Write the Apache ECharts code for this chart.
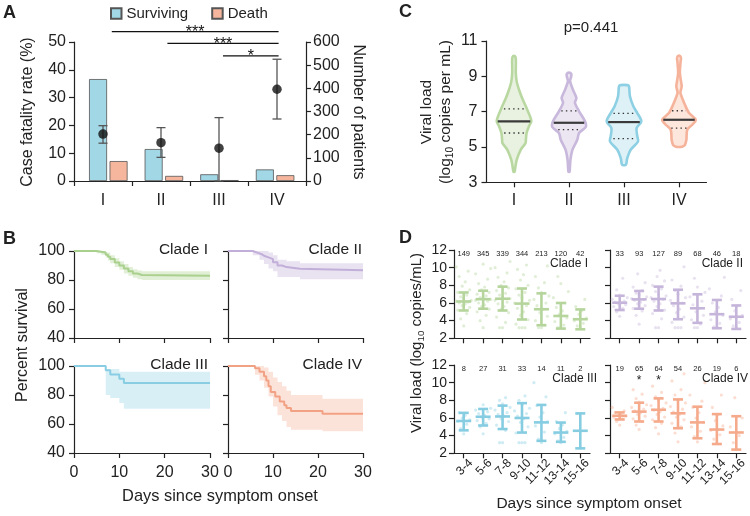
<!DOCTYPE html>
<html><head><meta charset="utf-8">
<script src="https://cdn.jsdelivr.net/npm/echarts@6/dist/echarts.min.js"></script>
<style>html,body{margin:0;padding:0;background:#fff}#chart{width:750px;height:516px}</style>
</head><body><div id="chart"></div>
<script>
// ---------------- Panel A data ----------------
const cladesA = ['I', 'II', 'III', 'IV'];
const survivingPatients = [440, 138, 29, 50];
const deathPatients = [86, 22, 4, 25];
const fatalityRate = [16.9, 13.8, 11.8, 33.0];
const fatalityLow = [13.6, 8.5, 0, 22.3];
const fatalityHigh = [19.9, 19.2, 22.8, 43.8];
const sigFrom = [0, 1, 2];
const sigTo = [3, 3, 3];
const sigLevel = [645, 594, 540];          // in patient-axis units
const sigText = ['***', '***', '*'];

// ---------------- Panel B data (Kaplan-Meier) ----------------
const kmCladeI = [[0,100],[5,99.5],[6,99],[7,97.5],[7.5,96],[8,94.5],[9,92],[10,90],[11,88],[12,86],[13,84.5],[14,83.5],[15,83],[30,83]];
const kmCladeIUpper = [[0,100],[5.5,100],[7,99],[8,97],[9,95],[10,93],[11,91],[12,89],[13,87.5],[14,86.5],[15,86],[30,86]];
const kmCladeILower = [[0,100],[5,98.5],[6,97.5],[7,95.5],[7.5,93.5],[8,91.5],[9,89],[10,87],[11,84.5],[12,83],[13,81.5],[14,80.5],[15,80],[30,80]];
const kmCladeII = [[0,100],[5.5,98.9],[6.5,97.8],[7.5,96.7],[8,95.6],[9,94.4],[10,92.2],[11,90],[12,88.9],[13,87.8],[16,86.7],[30,86.7]];
const kmCladeIIUpper = [[0,100],[9,99],[10,97],[11,94],[13,93],[16,91.5],[30,91.5]];
const kmCladeIILower = [[0,100],[5.5,97],[7,94],[8,91],[9,88],[10,86],[11,82],[16,80.5],[30,80.5]];
const kmCladeIII = [[0,100],[7,97.1],[8,94.1],[10,91.2],[11,88.2],[30,88.2]];
const kmCladeIIIUpper = [[0,100],[7,98],[10,96],[30,96]];
const kmCladeIIILower = [[0,100],[7,80],[8,78],[10,74.5],[11,70.5],[30,70.5]];
const kmCladeIV = [[0,100],[6,98.4],[7,96],[8,93],[8.5,90],[9,86],[9.5,82],[10.5,79],[11.5,75.5],[12.5,73],[13,71],[14,69],[21,67],[30,67]];
const kmCladeIVUpper = [[0,100],[8,99],[9,96],[10,92],[11,89],[12,86],[13,83],[14,80],[21,77.5],[30,77.5]];
const kmCladeIVLower = [[0,100],[6,94],[7,90],[8,85],[9,79],[10,72],[11,66],[12,62],[13,58],[14,56],[21,55],[30,55]];
const kmLabels = ['Clade I', 'Clade II', 'Clade III', 'Clade IV'];

// ---------------- Panel C data (violins) ----------------
const cladesC = ['I', 'II', 'III', 'IV'];
const violinI = [[10.15,0.04],[10.0,0.1],[9.2,0.1],[8.7,0.15],[8.24,0.28],[7.77,0.45],[7.2,0.7],[6.73,0.89],[6.45,0.96],[6.17,0.83],[5.79,0.7],[5.4,0.66],[5.22,0.64],[4.84,0.37],[4.27,0.15],[3.9,0.08],[3.6,0.03]];
const violinII = [[9.2,0.05],[9.12,0.13],[8.98,0.12],[8.72,0.06],[8.24,0.22],[7.77,0.41],[7.5,0.33],[7.02,0.56],[6.45,0.89],[6.13,0.93],[5.79,0.56],[5.41,0.46],[4.84,0.19],[4.27,0.08],[3.8,0.05],[3.6,0.03]];
const violinIII = [[8.5,0.2],[8.42,0.28],[7.87,0.33],[7.3,0.52],[6.92,0.74],[6.45,0.96],[6.07,0.7],[5.6,0.74],[5.31,0.78],[4.84,0.37],[4.37,0.18],[4.06,0.13],[3.98,0.08]];
const violinIV = [[10.15,0.06],[10.02,0.11],[9.85,0.09],[9.18,0.05],[8.6,0.13],[8.43,0.15],[8.2,0.1],[8.05,0.08],[7.39,0.33],[6.92,0.56],[6.54,0.93],[6.26,0.74],[5.98,0.46],[5.41,0.41],[5.12,0.33],[5.03,0.22],[5.0,0.1]];
const violinMedian = [6.45, 6.37, 6.41, 6.54];
const violinQ1 = [5.79, 5.98, 5.47, 6.07];
const violinQ3 = [7.16, 7.04, 6.9, 7.05];
const pValueText = 'p=0.441';

// ---------------- Panel D data ----------------
const dayBins = ['3-4', '5-6', '7-8', '9-10', '11-12', '13-14', '15-16'];
const dMeanI = [6.17, 6.43, 6.48, 5.93, 5.29, 4.53, 4.16];
const dHighI = [7.19, 7.39, 7.85, 7.64, 7.09, 6.0, 5.27];
const dLowI = [5.15, 5.35, 5.15, 4.13, 3.48, 3.1, 3.02];
const dCountI = [149, 345, 339, 344, 213, 120, 42];
const dMeanII = [6.03, 6.41, 6.45, 5.96, 5.4, 4.73, 4.44];
const dHighII = [6.82, 7.36, 7.85, 7.5, 6.98, 6.34, 5.72];
const dLowII = [5.2, 5.35, 5.15, 4.16, 3.75, 3.14, 3.06];
const dCountII = [33, 93, 127, 89, 68, 46, 18];
const dMeanIII = [5.66, 6.14, 6.17, 6.0, 5.5, 4.35, 4.55];
const dHighIII = [6.58, 7.02, 7.4, 7.68, 7.48, 5.48, 6.52];
const dLowIII = [4.6, 5.15, 4.75, 4.35, 3.41, 3.3, 2.56];
const dCountIII = [8, 27, 31, 33, 14, 11, 2];
const dMeanIV = [6.25, 6.72, 6.93, 6.53, 5.5, 4.69, 4.36];
const dHighIV = [6.63, 7.73, 8.22, 8.1, 7.28, 6.44, 6.2];
const dLowIV = [5.83, 5.6, 5.6, 4.84, 3.7, 3.05, 2.42];
const dCountIV = [19, 65, 64, 54, 26, 19, 6];
const dStarsIV = ['', '*', '*', '', '', '', ''];
const dStarsNone = ['', '', '', '', '', '', ''];
const dPointsI = [
  [3.4,4.2,4.8,5.2,5.5,5.7,5.9,6.0,6.1,6.2,6.3,6.5,6.7,6.9,7.2,7.5,7.9,8.4,9.0,9.6,10.1],
  [3.2,4.0,4.6,5.0,5.3,5.6,5.8,6.0,6.2,6.3,6.4,6.5,6.6,6.8,7.0,7.2,7.5,7.8,8.2,8.7,9.3,9.9,10.4],
  [3.2,3.2,3.8,4.4,4.9,5.3,5.6,5.9,6.1,6.3,6.5,6.7,6.9,7.1,7.4,7.7,8.0,8.4,8.9,9.4,10.0,10.7],
  [3.2,3.2,3.2,3.6,4.1,4.6,5.0,5.4,5.7,6.0,6.3,6.6,6.9,7.2,7.6,8.0,8.6,9.2,9.8,10.3],
  [3.2,3.2,3.5,4.0,4.5,4.9,5.3,5.7,6.0,6.4,6.8,7.2,7.7,8.3,9.0,10.2],
  [3.2,3.2,3.5,3.9,4.3,4.7,5.1,5.5,6.0,6.6,7.3,8.2,9.0],
  [3.2,3.4,3.7,4.0,4.3,4.7,5.1,5.6,6.4]
];
const dPointsII = [
  [4.5,5.0,5.4,5.6,5.8,5.9,6.0,6.1,6.2,6.4,6.6,6.9,7.5,8.8],
  [3.6,4.6,5.1,5.4,5.7,5.9,6.1,6.3,6.4,6.5,6.7,6.9,7.1,7.4,7.8,8.3,9.3],
  [3.2,3.2,4.2,4.8,5.2,5.6,5.9,6.2,6.4,6.6,6.8,7.0,7.3,7.6,8.0,8.5,9.0,9.7],
  [3.2,3.2,3.2,3.8,4.4,4.9,5.3,5.7,6.0,6.3,6.6,7.0,7.4,7.9,8.6,10.1],
  [3.2,3.2,3.6,4.1,4.6,5.0,5.4,5.8,6.2,6.7,7.2,7.8,8.8],
  [3.2,3.3,3.7,4.1,4.6,5.0,5.5,6.0,6.8,7.6,8.9],
  [3.2,3.4,3.8,4.2,4.6,5.1,5.7,6.4,7.4]
];
const dPointsIII = [
  [4.2,4.8,5.3,5.6,5.8,6.0,6.3,6.6],
  [4.2,5.0,5.4,5.7,5.9,6.1,6.3,6.5,6.7,6.9,7.1,7.5],
  [3.2,3.2,4.6,5.2,5.6,5.9,6.2,6.4,6.6,6.9,7.2,7.6,8.0,8.3],
  [3.2,3.2,3.2,4.3,5.0,5.5,5.9,6.2,6.5,6.8,7.1,7.5,8.0,8.5],
  [3.2,3.6,4.4,5.1,5.6,6.1,6.6,7.4,8.4,10.0],
  [3.2,3.4,3.8,4.2,4.5,4.8,5.2,5.6,6.6],
  [2.6,6.5]
];
const dPointsIV = [
  [5.2,5.6,5.9,6.1,6.2,6.3,6.4,6.6,6.8,7.2],
  [4.7,5.2,5.6,5.9,6.2,6.4,6.6,6.8,7.0,7.2,7.5,7.8,8.2,8.7,9.2],
  [4.2,4.9,5.4,5.8,6.1,6.4,6.7,6.9,7.1,7.4,7.7,8.0,8.4,8.9,9.6],
  [3.3,4.3,5.0,5.4,5.8,6.1,6.4,6.7,7.0,7.3,7.7,8.1,8.6,9.2,10.2,11.0],
  [3.3,3.9,4.5,5.0,5.5,6.0,6.6,7.2,7.9,8.6,10.0],
  [3.2,3.6,4.1,4.6,5.1,5.7,6.4,7.2,8.6],
  [2.4,3.2,4.0,5.0,6.0,8.3]
];
const dLabels = ['Clade I', 'Clade II', 'Clade III', 'Clade IV'];

// ---------------- styling ----------------
const FONT = "'Liberation Sans', Arial, Helvetica, sans-serif";
const INK = '#222';

const grids = [
  {left: 74, top: 42, width: 232, height: 139},      // 0 A (axes, dots)
  {left: 80.5, top: 42, width: 222.4, height: 139},  // 1 A (bars)
  {left: 74, top: 251, width: 136, height: 87},       // 2 B I
  {left: 228, top: 251, width: 135, height: 87},      // 3 B II
  {left: 74, top: 366, width: 136, height: 87},       // 4 B III
  {left: 228, top: 366, width: 135, height: 87},      // 5 B IV
  {left: 486.5, top: 41, width: 220, height: 141.3},  // 6 C
  {left: 454, top: 250, width: 136, height: 88.3},    // 7 D I
  {left: 610, top: 250, width: 136, height: 88.3},    // 8 D II
  {left: 454, top: 365, width: 136, height: 88.3},    // 9 D III
  {left: 610, top: 365, width: 136, height: 88.3}     // 10 D IV
];

const LINE = {show: true, onZero: false, lineStyle: {color: INK, width: 1.2}};
const TICK = {show: true, length: 5, lineStyle: {color: INK, width: 1.2}};
function lab(show, size, margin, extra) {
  return Object.assign({show: show, fontSize: size, color: INK, margin: margin, fontFamily: FONT}, extra || {});
}
const NOSPLIT = {show: false};

const xAxis = [], yAxis = [], series = [];

// ---- A axes
xAxis.push({type: 'category', gridIndex: 0, data: cladesA, axisLine: LINE, axisTick: TICK, axisLabel: lab(true, 16, 12), splitLine: NOSPLIT});
yAxis.push({type: 'value', gridIndex: 0, position: 'left', min: 0, max: 50, interval: 10, axisLine: LINE, axisTick: TICK, axisLabel: lab(true, 16, 8), splitLine: NOSPLIT});
yAxis.push({type: 'value', gridIndex: 0, position: 'right', min: 0, max: 600, interval: 100, axisLine: LINE, axisTick: TICK, axisLabel: lab(true, 16, 7), splitLine: NOSPLIT});
xAxis.push({type: 'category', gridIndex: 1, data: cladesA, show: false});
yAxis.push({type: 'value', gridIndex: 1, min: 0, max: 600, show: false});

// ---- B axes
for (let k = 0; k < 4; k++) {
  xAxis.push({type: 'value', gridIndex: 2 + k, min: 0, max: 30, interval: 10, axisLine: LINE, axisTick: TICK, axisLabel: lab(k >= 2, 16, 12), splitLine: NOSPLIT});
  yAxis.push({type: 'value', gridIndex: 2 + k, min: 40, max: 100, interval: 20, axisLine: LINE, axisTick: TICK, axisLabel: lab(k % 2 === 0, 16, 9), splitLine: NOSPLIT});
}
// ---- C axes
xAxis.push({type: 'category', gridIndex: 6, data: cladesC, axisLine: LINE, axisTick: Object.assign({alignWithLabel: true}, TICK), axisLabel: lab(true, 16, 10), splitLine: NOSPLIT});
yAxis.push({type: 'value', gridIndex: 6, min: 3, max: 11, interval: 2, axisLine: LINE, axisTick: TICK, axisLabel: lab(true, 16, 9), splitLine: NOSPLIT});
// ---- D axes
for (let k = 0; k < 4; k++) {
  xAxis.push({type: 'category', gridIndex: 7 + k, data: dayBins, axisLine: LINE,
    axisTick: Object.assign({alignWithLabel: true, interval: 0}, TICK),
    axisLabel: lab(k >= 2, 12, 15, {rotate: 45, interval: 0, padding: [0, -10, 0, 0]}), splitLine: NOSPLIT});
  yAxis.push({type: 'value', gridIndex: 7 + k, min: 2, max: 12, interval: 2, axisLine: LINE, axisTick: TICK,
    axisLabel: lab(k % 2 === 0, 14, 7), splitLine: NOSPLIT});
}

// ---------------- A series ----------------
series.push({type: 'bar', name: 'Surviving', xAxisIndex: 1, yAxisIndex: 2, data: survivingPatients,
  barWidth: 18, barGap: '14%', itemStyle: {color: '#a2d7e6', borderColor: '#555', borderWidth: 0.8}});
series.push({type: 'bar', name: 'Death', xAxisIndex: 1, yAxisIndex: 2, data: deathPatients,
  barWidth: 18, barGap: '14%', itemStyle: {color: '#f5b69d', borderColor: '#555', borderWidth: 0.8}});
series.push({type: 'custom', xAxisIndex: 0, yAxisIndex: 0, z: 4,
  data: cladesA.map((c, i) => [i, fatalityLow[i], fatalityHigh[i]]),
  renderItem: function (params, api) {
    const lo = api.coord([api.value(0), api.value(1)]);
    const hi = api.coord([api.value(0), api.value(2)]);
    const cw = 4.5, st = {stroke: '#555', lineWidth: 1.3};
    return {type: 'group', children: [
      {type: 'line', shape: {x1: lo[0], y1: lo[1], x2: hi[0], y2: hi[1]}, style: st},
      {type: 'line', shape: {x1: hi[0] - cw, y1: hi[1], x2: hi[0] + cw, y2: hi[1]}, style: st},
      {type: 'line', shape: {x1: lo[0] - cw, y1: lo[1], x2: lo[0] + cw, y2: lo[1]}, style: st}
    ]};
  }});
series.push({type: 'scatter', xAxisIndex: 0, yAxisIndex: 0, data: fatalityRate, symbolSize: 9.5, z: 5,
  itemStyle: {color: '#111'}});
series.push({type: 'custom', xAxisIndex: 1, yAxisIndex: 2, clip: false, z: 6,
  data: sigFrom.map((f, i) => [f, sigTo[i], sigLevel[i], i]),
  renderItem: function (params, api) {
    const a = api.coord([api.value(0), api.value(2)]);
    const b = api.coord([api.value(1), api.value(2)]);
    const x1 = a[0] + 3.5, x2 = b[0] + 3.5;
    return {type: 'group', children: [
      {type: 'line', shape: {x1: x1, y1: a[1], x2: x2, y2: a[1]}, style: {stroke: '#111', lineWidth: 1.1}},
      {type: 'text', x: (x1 + x2) / 2, y: a[1] + 1, style: {text: sigText[api.value(3)], fill: '#111', fontSize: 16, fontFamily: FONT,
        align: 'center', verticalAlign: 'middle', textAlign: 'center', textVerticalAlign: 'middle'}}
    ]};
  }});

// ---------------- B series ----------------
const kmSets = [
  {line: kmCladeI, upper: kmCladeIUpper, lower: kmCladeILower, color: '#a9d08d', band: 'rgba(176,214,150,0.38)'},
  {line: kmCladeII, upper: kmCladeIIUpper, lower: kmCladeIILower, color: '#c2afd9', band: 'rgba(196,178,218,0.38)'},
  {line: kmCladeIII, upper: kmCladeIIIUpper, lower: kmCladeIIILower, color: '#88cde2', band: 'rgba(136,205,226,0.32)'},
  {line: kmCladeIV, upper: kmCladeIVUpper, lower: kmCladeIVLower, color: '#f2a284', band: 'rgba(246,176,150,0.35)'}
];
function stepPts(arr, api) {
  const pts = [];
  arr.forEach((p, i) => {
    if (i > 0) pts.push(api.coord([p[0], arr[i - 1][1]]));
    pts.push(api.coord(p));
  });
  return pts;
}
kmSets.forEach((s, k) => {
  series.push({type: 'custom', xAxisIndex: 2 + k, yAxisIndex: 3 + k, data: [[0, 100]], z: 2,
    renderItem: function (params, api) {
      const up = stepPts(s.upper, api);
      const lo = stepPts(s.lower, api).reverse();
      return {type: 'polygon', shape: {points: up.concat(lo)}, style: {fill: s.band}};
    }});
  series.push({type: 'line', xAxisIndex: 2 + k, yAxisIndex: 3 + k, data: s.line, step: 'end',
    showSymbol: false, symbol: 'none', z: 3, lineStyle: {color: s.color, width: 2}, itemStyle: {color: s.color}});
});

// ---------------- C series ----------------
const violins = [violinI, violinII, violinIII, violinIV];
const violinStyle = [
  {fill: '#e9f2e0', stroke: '#b9d8a1'},
  {fill: '#ece5f2', stroke: '#c8b8dc'},
  {fill: '#ddf1f7', stroke: '#8ed0e3'},
  {fill: '#fde6db', stroke: '#f6b39b'}
];
const VHALF = 18;
function widthAt(prof, v) {
  for (let j = 0; j < prof.length - 1; j++) {
    const a = prof[j], b = prof[j + 1];
    if (v <= a[0] && v >= b[0]) {
      const t = (a[0] - v) / (a[0] - b[0]);
      return a[1] + t * (b[1] - a[1]);
    }
  }
  return 0;
}
series.push({type: 'custom', xAxisIndex: 6, yAxisIndex: 7, z: 3,
  data: cladesC.map((c, i) => [i, violinMedian[i]]),
  renderItem: function (params, api) {
    const i = api.value(0);
    const prof = violins[i];
    const left = [], right = [];
    prof.forEach(p => {
      const c = api.coord([i, p[0]]);
      left.push([c[0] - p[1] * VHALF, c[1]]);
      right.push([c[0] + p[1] * VHALF, c[1]]);
    });
    const pts = left.concat(right.reverse());
    const children = [{type: 'polygon', shape: {points: pts, smooth: 0.3},
      style: {fill: violinStyle[i].fill, stroke: violinStyle[i].stroke, lineWidth: 2.6, lineJoin: 'round'}}];
    const m = api.coord([i, violinMedian[i]]);
    const mw = widthAt(prof, violinMedian[i]) * VHALF - 1;
    children.push({type: 'line', shape: {x1: m[0] - mw, y1: m[1], x2: m[0] + mw, y2: m[1]}, style: {stroke: '#3a3a3a', lineWidth: 2.2}});
    [violinQ1[i], violinQ3[i]].forEach(q => {
      const c = api.coord([i, q]);
      const w = widthAt(prof, q) * VHALF * 0.78;
      children.push({type: 'line', shape: {x1: c[0] - w, y1: c[1], x2: c[0] + w, y2: c[1]},
        style: {stroke: '#333', lineWidth: 1.3, lineDash: [1.4, 3.2]}});
    });
    return {type: 'group', children: children};
  }});

// ---------------- D series ----------------
const dSets = [
  {mean: dMeanI, hi: dHighI, lo: dLowI, n: dCountI, pts: dPointsI, stars: dStarsNone, color: '#b5d59c', dot: 'rgba(181,213,156,0.4)'},
  {mean: dMeanII, hi: dHighII, lo: dLowII, n: dCountII, pts: dPointsII, stars: dStarsNone, color: '#c6b5da', dot: 'rgba(198,181,218,0.4)'},
  {mean: dMeanIII, hi: dHighIII, lo: dLowIII, n: dCountIII, pts: dPointsIII, stars: dStarsNone, color: '#86cde2', dot: 'rgba(134,205,226,0.4)'},
  {mean: dMeanIV, hi: dHighIV, lo: dLowIV, n: dCountIV, pts: dPointsIV, stars: dStarsIV, color: '#f5aa8c', dot: 'rgba(245,170,140,0.4)'}
];
const JITTER = [0, -3, 3, -6, 6, -1.5, 1.5, -4.5, 4.5, -7.5, 7.5];
dSets.forEach((s, k) => {
  series.push({type: 'custom', xAxisIndex: 7 + k, yAxisIndex: 8 + k, z: 3,
    data: dayBins.map((b, i) => [i, s.mean[i]]),
    renderItem: function (params, api) {
      const i = api.value(0);
      const children = [];
      s.pts[i].forEach((v, j) => {
        const c = api.coord([i, v]);
        children.push({type: 'circle', shape: {cx: c[0] + JITTER[j % JITTER.length], cy: c[1], r: 1.6}, style: {fill: s.dot}});
      });
      const m = api.coord([i, s.mean[i]]);
      const h = api.coord([i, s.hi[i]]);
      const l = api.coord([i, s.lo[i]]);
      const st = {stroke: s.color, lineWidth: 2.6};
      children.push({type: 'line', shape: {x1: h[0], y1: h[1], x2: l[0], y2: l[1]}, style: st});
      children.push({type: 'line', shape: {x1: h[0] - 5, y1: h[1], x2: h[0] + 5, y2: h[1]}, style: st});
      children.push({type: 'line', shape: {x1: l[0] - 5, y1: l[1], x2: l[0] + 5, y2: l[1]}, style: st});
      children.push({type: 'line', shape: {x1: m[0] - 7.5, y1: m[1], x2: m[0] + 7.5, y2: m[1]}, style: st});
      const t = api.coord([i, 11.5]);
      children.push({type: 'text', x: t[0], y: t[1], style: {text: String(s.n[i]), fill: '#222', fontSize: 7.5, fontFamily: FONT,
        align: 'center', verticalAlign: 'middle', textAlign: 'center', textVerticalAlign: 'middle'}});
      if (s.stars[i]) {
        const sp = api.coord([i, 10.5]);
        children.push({type: 'text', x: sp[0], y: sp[1] + 2, style: {text: s.stars[i], fill: '#222', fontSize: 12, fontFamily: FONT,
          align: 'center', verticalAlign: 'middle', textAlign: 'center', textVerticalAlign: 'middle'}});
      }
      return {type: 'group', children: children};
    }});
});

// ---------------- text (titles / panel letters) ----------------
function txt(x, y, text, o) {
  o = o || {};
  const style = {text: text, fill: INK, fontFamily: FONT, fontSize: o.size || 16, fontWeight: o.weight || 'normal',
    align: o.align || 'center', textAlign: o.align || 'center', verticalAlign: 'middle', textVerticalAlign: 'middle'};
  if (o.rich) style.rich = o.rich;
  return {type: 'text', x: x, y: y, rotation: o.rot || 0, silent: true, z: 100, style: style};
}
const R = Math.PI / 2;
function richSub(size) {
  return {
    a: {fontSize: size, fontFamily: FONT, fill: INK, color: INK, lineHeight: 19},
    s: {fontSize: size * 0.66, fontFamily: FONT, fill: INK, color: INK, lineHeight: 19, verticalAlign: 'bottom'}
  };
}
const graphic = [
  txt(3, 13, 'A', {size: 18, weight: 'bold', align: 'left'}),
  txt(3, 239, 'B', {size: 18, weight: 'bold', align: 'left'}),
  txt(399, 12, 'C', {size: 18, weight: 'bold', align: 'left'}),
  txt(399, 238, 'D', {size: 18, weight: 'bold', align: 'left'}),
  txt(28, 112, 'Case fatality rate (%)', {rot: R}),
  txt(358, 112, 'Number of patients', {rot: -R}),
  txt(23, 345, 'Percent survival', {rot: R}),
  txt(220, 496, 'Days since symptom onset', {size: 16.4}),
  txt(436, 112, '{a|Viral load}\n{a|(log}{s|10}{a| copies per mL)}', {rot: R, rich: richSub(15.5)}),
  txt(591, 28, pValueText, {size: 15}),
  txt(417, 343, '{a|Viral load (log}{s|10}{a| copies/mL)}', {rot: R, rich: richSub(15)}),
  txt(589, 504, 'Days since symptom onset', {size: 15.5}),
  txt(208, 250, kmLabels[0], {align: 'right', size: 15.5}),
  txt(362, 250, kmLabels[1], {align: 'right', size: 15.5}),
  txt(208, 365, kmLabels[2], {align: 'right', size: 15.5}),
  txt(362, 365, kmLabels[3], {align: 'right', size: 15.5}),
  txt(588, 264, dLabels[0], {align: 'right', size: 12}),
  txt(743, 264, dLabels[1], {align: 'right', size: 12}),
  txt(597, 379, dLabels[2], {align: 'right', size: 12}),
  txt(748, 379, dLabels[3], {align: 'right', size: 12})
];

const option = {
  animation: false,
  backgroundColor: '#fff',
  textStyle: {fontFamily: FONT},
  grid: grids.map(g => Object.assign({outerBoundsMode: 'none', containLabel: false}, g)),
  legend: {data: ['Surviving', 'Death'], left: 110, top: 6, padding: 0, itemWidth: 10.5, itemHeight: 10.5, itemGap: 23,
    icon: 'rect', textStyle: {fontSize: 15, color: INK, fontFamily: FONT}, selectedMode: false},
  xAxis: xAxis,
  yAxis: yAxis,
  series: series,
  graphic: graphic
};
const chart = echarts.init(document.getElementById('chart'), null, {renderer: 'canvas'});
chart.setOption(option);
</script>
</body></html>
